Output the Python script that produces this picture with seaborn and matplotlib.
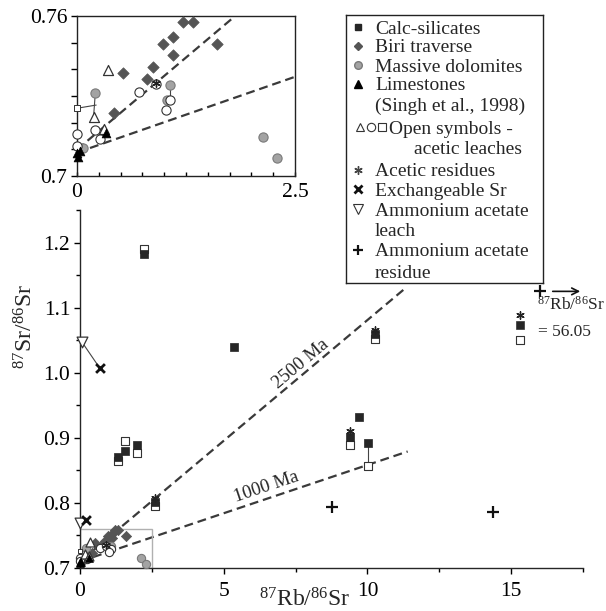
import matplotlib
matplotlib.use("Agg")
import matplotlib.pyplot as plt
import seaborn as sns
from matplotlib.ticker import MultipleLocator

# ---- values ----
# calc-silicates (filled squares) and their acetic leaches (open squares)
calc_x = [2.22, 5.35, 1.33, 1.56, 1.98, 2.60, 9.41, 9.72, 10.03, 10.28]
calc_y = [1.183, 1.040, 0.871, 0.880, 0.889, 0.801, 0.901, 0.932, 0.892, 1.060]
sq_open_x = [2.22, 1.33, 1.56, 1.98, 2.60, 9.41, 10.03, 10.28]
sq_open_y = [1.190, 0.865, 0.895, 0.877, 0.795, 0.889, 0.857, 1.052]

# acetic residues
resid_x = [9.41, 2.60, 10.28, 0.91]
resid_y = [0.910, 0.807, 1.066, 0.7350]

# Biri traverse (diamonds)
biri_x = [1.22, 1.33, 1.10, 0.99, 1.61, 1.10, 0.87, 0.53, 0.80, 0.42]
biri_y = [0.7578, 0.7578, 0.7521, 0.7495, 0.7495, 0.7454, 0.7408, 0.7385, 0.7363, 0.7237]

# massive dolomites (grey circles)
dol_x = [2.13, 2.29, 0.21, 1.07, 1.03, 0.07]
dol_y = [0.7146, 0.7067, 0.7311, 0.7341, 0.7285, 0.7104]

# open circles (acetic leaches)
circ_open_x = [0.0, 0.21, 0.26, 0.0, 0.71, 0.91, 1.07, 1.02]
circ_open_y = [0.7157, 0.7172, 0.7139, 0.7112, 0.7314, 0.7345, 0.7285, 0.7247]

# limestones (filled triangles) and open triangles
lime_x = [0.33, 0.0, 0.015, 0.03]
lime_y = [0.7160, 0.7085, 0.7072, 0.7095]
tri_open_x = [0.36, 0.19, 0.31]
tri_open_y = [0.7397, 0.7222, 0.7177]

# small open square at the origin
small_sq_x = [0.0]
small_sq_y = [0.7254]

# ammonium acetate leach, exchangeable Sr, ammonium acetate residue
amm_leach_x = [0.07, 0.0]
amm_leach_y = [1.047, 0.769]
exch_x = [0.69, 0.21]
exch_y = [1.007, 0.773]
amm_res_x = [8.78, 14.38, 16.0]
amm_res_y = [0.793, 0.786, 1.125]

# off-scale sample (87Rb/86Sr = 56.05) drawn at the right margin
offscale_x = 15.3
offscale_resid_y = 1.089
offscale_calc_y = 1.074
offscale_open_y = 1.051

# tie lines between paired analyses
tie_x0 = [0.07, 10.03, 0.21, 0.0, 1.07]
tie_y0 = [1.047, 0.892, 0.7311, 0.7254, 0.7341]
tie_x1 = [0.69, 10.03, 0.19, 0.22, 1.07]
tie_y1 = [1.007, 0.857, 0.7222, 0.7266, 0.7285]

# reference isochrons (end points) for main panel and inset
iso_main_x = [0.0, 11.35]
iso2500_main_y = [0.710, 1.131]
iso1000_main_x = [0.0, 11.4]
iso1000_main_y = [0.710, 0.879]
iso2500_in_x = [0.0, 1.774]
iso2500_in_y = [0.7099, 0.7589]
iso1000_in_x = [0.0, 2.5]
iso1000_in_y = [0.7088, 0.7372]

main_xticks = [0, 5, 10, 15]
main_yticks = [0.7, 0.8, 0.9, 1.0, 1.1, 1.2]
main_yticklabels = ["0.7", "0.8", "0.9", "1.0", "1.1", "1.2"]

sns.set_theme(style="ticks")
plt.rcParams['font.family'] = ['Liberation Serif', 'DejaVu Serif']
plt.rcParams['mathtext.fontset'] = 'custom'
plt.rcParams['mathtext.rm'] = 'Liberation Serif'
plt.rcParams['mathtext.it'] = 'Liberation Serif:italic'
plt.rcParams['axes.linewidth'] = 1.0

W, H = 606, 611
fig = plt.figure(figsize=(W / 100, H / 100), dpi=100)
fig.patch.set_facecolor('white')


def fig_box(left, top, right, bottom):
    return [left / W, 1 - bottom / H, (right - left) / W, (bottom - top) / H]


DARK = '#262626'
DIAM = '#555555'
GREY = '#a3a3a3'
EDGE = '#333333'
DASH = (0, (4, 2.2))


def draw_points(ax, k=1.0):
    for x0, y0, x1, y1 in zip(tie_x0, tie_y0, tie_x1, tie_y1):
        ax.plot([x0, x1], [y0, y1], color='#444444', lw=0.8, zorder=2, clip_on=False)
    sns.scatterplot(x=biri_x, y=biri_y, marker='D', s=34 * k, color=DIAM,
                    edgecolor=DIAM, linewidth=0.5, ax=ax, zorder=3, clip_on=False)
    sns.scatterplot(x=dol_x, y=dol_y, marker='o', s=44 * k, color=GREY,
                    edgecolor='#7a7a7a', linewidth=0.8, ax=ax, zorder=3, clip_on=False)
    sns.scatterplot(x=circ_open_x, y=circ_open_y, marker='o', s=44 * k, color='white',
                    edgecolor=EDGE, linewidth=0.8, ax=ax, zorder=4, clip_on=False)
    sns.scatterplot(x=tri_open_x, y=tri_open_y, marker='^', s=52 * k, color='white',
                    edgecolor=EDGE, linewidth=0.9, ax=ax, zorder=4, clip_on=False)
    sns.scatterplot(x=lime_x, y=lime_y, marker='^', s=40 * k, color='black',
                    edgecolor='black', linewidth=0.5, ax=ax, zorder=5, clip_on=False)
    sns.scatterplot(x=small_sq_x, y=small_sq_y, marker='s', s=14 * k, color='white',
                    edgecolor=EDGE, linewidth=0.7, ax=ax, zorder=4, clip_on=False)
    sns.scatterplot(x=sq_open_x, y=sq_open_y, marker='s', s=30, color='white',
                    edgecolor=EDGE, linewidth=0.8, ax=ax, zorder=3)
    sns.scatterplot(x=calc_x, y=calc_y, marker='s', s=30, color=DARK,
                    edgecolor=DARK, linewidth=0.5, ax=ax, zorder=4)
    sns.scatterplot(x=resid_x, y=resid_y, marker=(6, 2, 0), s=28, color='#222222',
                    linewidth=1.0, ax=ax, zorder=5)
    sns.scatterplot(x=amm_leach_x, y=amm_leach_y, marker='v', s=60, color='white',
                    edgecolor=EDGE, linewidth=0.9, ax=ax, zorder=4, clip_on=False)
    sns.scatterplot(x=exch_x, y=exch_y, marker='x', s=40, color='#111111',
                    linewidth=2.0, ax=ax, zorder=5)


# ---------------- main panel ----------------
ax = fig.add_axes(fig_box(80, 210, 583, 568))
ax.plot(iso_main_x, iso2500_main_y, ls=DASH, color='#3a3a3a', lw=1.6, zorder=1)
ax.plot(iso1000_main_x, iso1000_main_y, ls=DASH, color='#3a3a3a', lw=1.6, zorder=1)
ax.add_patch(plt.Rectangle((0, 0.7), 2.5, 0.06, fill=False, ec='#b0b0b0', lw=1.0, zorder=1))
draw_points(ax, k=0.8)
sns.scatterplot(x=amm_res_x, y=amm_res_y, marker='+', s=70, color='#111111',
                linewidth=1.6, ax=ax, zorder=5)
sns.scatterplot(x=[offscale_x], y=[offscale_resid_y], marker=(6, 2, 0), s=28,
                color='#222222', linewidth=1.0, ax=ax, zorder=5)
sns.scatterplot(x=[offscale_x], y=[offscale_calc_y], marker='s', s=30, color=DARK,
                edgecolor=DARK, ax=ax, zorder=5)
sns.scatterplot(x=[offscale_x], y=[offscale_open_y], marker='s', s=30, color='white',
                edgecolor=EDGE, linewidth=0.8, ax=ax, zorder=5)
ax.annotate('', xy=(17.5, amm_res_y[2]), xytext=(16.35, amm_res_y[2]),
            arrowprops=dict(arrowstyle='->', color='#111111', lw=1.2), annotation_clip=False)
ax.text(15.9, 1.104, '$^{87}$Rb/$^{86}$Sr', fontsize=12.5, ha='left', va='center')
ax.text(15.95, 1.063, '= 56.05', fontsize=12.5, ha='left', va='center')
ax.text(7.67, 1.014, '2500 Ma', fontsize=13.5, rotation=40, rotation_mode='anchor',
        ha='center', va='center')
ax.text(6.5, 0.824, '1000 Ma', fontsize=13.5, rotation=18.6, rotation_mode='anchor',
        ha='center', va='center')

ax.set_xlim(0, 17.5)
ax.set_ylim(0.7, 1.25)
ax.set_xticks(main_xticks)
ax.set_xticklabels([str(t) for t in main_xticks])
ax.set_yticks(main_yticks)
ax.set_yticklabels(main_yticklabels)
ax.xaxis.set_minor_locator(MultipleLocator(2.5))
ax.yaxis.set_minor_locator(MultipleLocator(0.05))
ax.tick_params(which='major', direction='out', length=4, width=1.0, labelsize=15.5,
               color='black', labelcolor='black')
ax.tick_params(axis='x', which='major', pad=6)
ax.tick_params(axis='y', which='major', pad=3)
ax.tick_params(which='minor', direction='out', length=3, width=1.0, color='black')
sns.despine(ax=ax)
ax.set_facecolor('none')
ax.set_xlabel('$^{87}$Rb/$^{86}$Sr', fontsize=17)
ax.xaxis.set_label_coords(0.447, -0.058)
ax.set_ylabel('$^{87}$Sr/$^{86}$Sr', fontsize=17)
ax.yaxis.set_label_coords(-0.085, 0.675)

# ---------------- inset ----------------
axi = fig.add_axes(fig_box(77, 16, 295, 176))
axi.plot(iso2500_in_x, iso2500_in_y, ls=DASH, color='#3a3a3a', lw=1.6, zorder=1)
axi.plot(iso1000_in_x, iso1000_in_y, ls=DASH, color='#3a3a3a', lw=1.6, zorder=1)
draw_points(axi, k=1.0)
axi.set_xlim(0, 2.5)
axi.set_ylim(0.7, 0.76)
axi.set_xticks([0, 2.5])
axi.set_xticklabels(['0', '2.5'])
axi.set_yticks([0.7, 0.76])
axi.set_yticklabels(['0.7', '0.76'])
axi.xaxis.set_minor_locator(MultipleLocator(0.25))
axi.yaxis.set_minor_locator(MultipleLocator(0.01))
axi.tick_params(which='both', width=1.0, color='black', labelsize=15.5, labelcolor='black')
axi.tick_params(axis='x', which='both', direction='in', length=3, pad=5)
axi.tick_params(axis='y', which='both', direction='out', length=4, pad=3)
for sp in axi.spines.values():
    sp.set_color('#222222')
    sp.set_linewidth(1.0)

# ---------------- legend box ----------------
lx0, ly0, lx1, ly1 = 346, 15, 543, 283
lax = fig.add_axes(fig_box(lx0, ly0, lx1, ly1))
lax.set_xlim(lx0, lx1)
lax.set_ylim(ly1, ly0)
lax.set_xticks([])
lax.set_yticks([])
for sp in lax.spines.values():
    sp.set_color('#222222')
    sp.set_linewidth(1.0)

rows = [27, 46, 65, 84, 104, 127, 148, 170, 189, 209, 230, 250, 271]
mx, tx = 358, 375
fs = 14
lax.plot(mx, rows[0], marker='s', ms=5, color=DARK)
lax.plot(mx, rows[1], marker='D', ms=4.5, color=DIAM)
lax.plot(mx, rows[2], marker='o', ms=5.5, color=GREY, mec='#7a7a7a')
lax.plot(mx, rows[3], marker='^', ms=6, color='black')
lax.plot(360, rows[5], marker='^', ms=6, mfc='white', mec=EDGE, mew=0.8)
lax.plot(371, rows[5], marker='o', ms=6, mfc='white', mec=EDGE, mew=0.8)
lax.plot(382, rows[5], marker='s', ms=5.5, mfc='white', mec=EDGE, mew=0.8)
lax.plot(mx, rows[7], marker=(6, 2, 0), ms=6, color='#444444', mew=1.0)
lax.plot(mx, rows[8], marker='x', ms=5.5, color='#111111', mew=2.0)
lax.plot(mx, rows[9], marker='v', ms=6.5, mfc='white', mec=EDGE, mew=0.8)
lax.plot(mx, rows[11], marker='+', ms=7, color='#111111', mew=1.6)

labels = [
    (tx, rows[0], 'Calc-silicates'),
    (tx, rows[1], 'Biri traverse'),
    (tx, rows[2], 'Massive dolomites'),
    (tx, rows[3], 'Limestones'),
    (tx, rows[4], '(Singh et al., 1998)'),
    (389, rows[5], 'Open symbols -'),
    (414, rows[6], 'acetic leaches'),
    (tx, rows[7], 'Acetic residues'),
    (tx, rows[8], 'Exchangeable Sr'),
    (tx, rows[9], 'Ammonium acetate'),
    (tx, rows[10], 'leach'),
    (tx, rows[11], 'Ammonium acetate'),
    (tx, rows[12], 'residue'),
]
for x, y, s in labels:
    lax.text(x, y, s, fontsize=fs, ha='left', va='center_baseline')

fig.savefig('out.png', dpi=100, facecolor='white')
